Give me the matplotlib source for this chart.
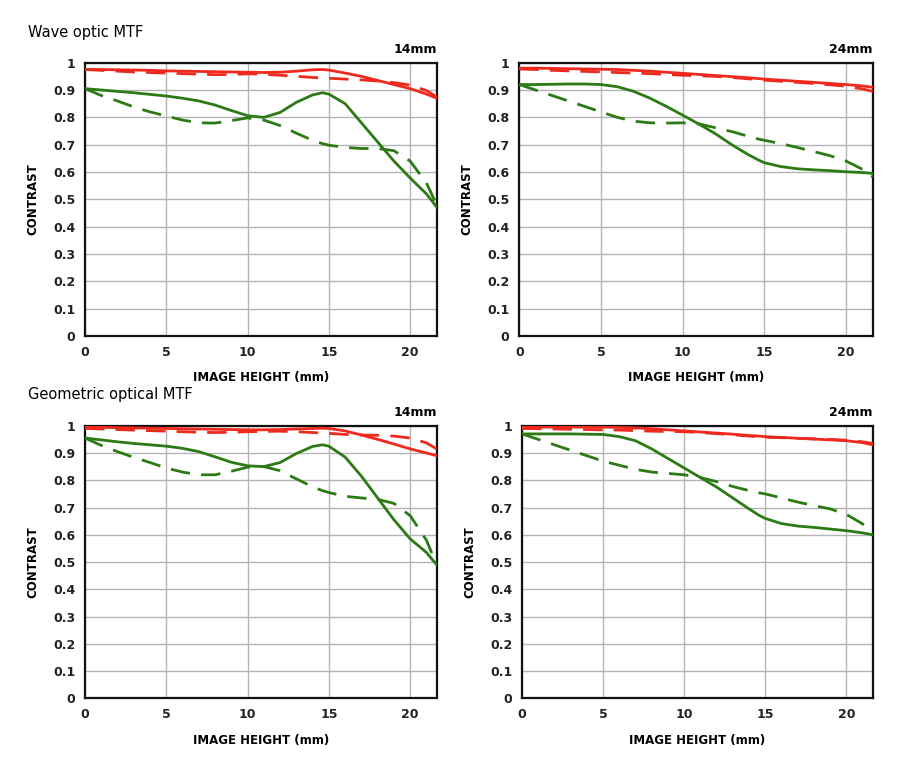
import matplotlib
matplotlib.use("Agg")
import matplotlib.pyplot as plt

# image height positions (mm), shared by every curve
x = [0, 1, 2, 3, 4, 5, 6, 7, 8, 9, 10, 11, 12, 13, 14, 14.6, 15, 16, 17, 18, 19, 20, 21, 21.63]

# wave optic MTF, 14mm
wave14_red_s = [0.975, 0.975, 0.974, 0.973, 0.972, 0.970, 0.969, 0.968, 0.967, 0.966, 0.965, 0.964, 0.965, 0.969, 0.974, 0.975, 0.973, 0.962, 0.950, 0.935, 0.920, 0.905, 0.885, 0.870]
wave14_red_d = [0.975, 0.972, 0.969, 0.966, 0.964, 0.962, 0.960, 0.958, 0.956, 0.957, 0.959, 0.958, 0.954, 0.950, 0.946, 0.944, 0.943, 0.940, 0.937, 0.933, 0.927, 0.918, 0.898, 0.875]
wave14_grn_s = [0.905, 0.900, 0.895, 0.890, 0.884, 0.878, 0.870, 0.860, 0.845, 0.825, 0.806, 0.800, 0.818, 0.855, 0.882, 0.890, 0.885, 0.850, 0.780, 0.710, 0.640, 0.578, 0.520, 0.472]
wave14_grn_d = [0.905, 0.880, 0.860, 0.838, 0.820, 0.805, 0.790, 0.780, 0.779, 0.788, 0.798, 0.790, 0.770, 0.742, 0.716, 0.704, 0.698, 0.690, 0.686, 0.686, 0.678, 0.640, 0.560, 0.480]

# wave optic MTF, 24mm
wave24_red_s = [0.980, 0.980, 0.979, 0.978, 0.977, 0.976, 0.975, 0.972, 0.969, 0.965, 0.961, 0.957, 0.953, 0.949, 0.945, 0.942, 0.940, 0.936, 0.932, 0.928, 0.924, 0.920, 0.915, 0.910]
wave24_red_d = [0.977, 0.975, 0.972, 0.970, 0.968, 0.966, 0.964, 0.962, 0.960, 0.957, 0.954, 0.952, 0.950, 0.946, 0.941, 0.938, 0.936, 0.932, 0.928, 0.924, 0.919, 0.914, 0.904, 0.895]
wave24_grn_s = [0.920, 0.920, 0.921, 0.922, 0.922, 0.920, 0.912, 0.895, 0.870, 0.840, 0.808, 0.775, 0.740, 0.700, 0.664, 0.645, 0.634, 0.620, 0.612, 0.608, 0.605, 0.601, 0.598, 0.595]
wave24_grn_d = [0.920, 0.900, 0.880, 0.860, 0.840, 0.820, 0.800, 0.786, 0.780, 0.779, 0.780, 0.776, 0.762, 0.748, 0.731, 0.721, 0.716, 0.704, 0.690, 0.675, 0.660, 0.640, 0.610, 0.582]

# geometric optical MTF, 14mm
geo14_red_s = [0.995, 0.994, 0.993, 0.992, 0.991, 0.990, 0.989, 0.988, 0.987, 0.986, 0.985, 0.985, 0.986, 0.988, 0.990, 0.991, 0.990, 0.981, 0.966, 0.950, 0.933, 0.915, 0.900, 0.890]
geo14_red_d = [0.990, 0.988, 0.986, 0.984, 0.982, 0.980, 0.978, 0.976, 0.975, 0.976, 0.978, 0.979, 0.980, 0.978, 0.975, 0.973, 0.972, 0.968, 0.966, 0.965, 0.962, 0.955, 0.937, 0.915]
geo14_grn_s = [0.955, 0.948, 0.941, 0.935, 0.930, 0.925, 0.917, 0.905, 0.886, 0.866, 0.853, 0.850, 0.865, 0.898, 0.924, 0.930, 0.925, 0.885, 0.815, 0.735, 0.655, 0.585, 0.535, 0.490]
geo14_grn_d = [0.955, 0.928, 0.905, 0.884, 0.865, 0.845, 0.830, 0.820, 0.820, 0.833, 0.848, 0.850, 0.835, 0.805, 0.776, 0.762, 0.755, 0.741, 0.735, 0.730, 0.715, 0.670, 0.580, 0.490]

# geometric optical MTF, 24mm
geo24_red_s = [0.995, 0.995, 0.995, 0.995, 0.995, 0.995, 0.994, 0.992, 0.989, 0.985, 0.981, 0.977, 0.973, 0.969, 0.964, 0.962, 0.960, 0.957, 0.954, 0.951, 0.948, 0.945, 0.938, 0.930]
geo24_red_d = [0.990, 0.989, 0.988, 0.987, 0.986, 0.985, 0.984, 0.982, 0.980, 0.979, 0.978, 0.975, 0.971, 0.967, 0.962, 0.960, 0.958, 0.956, 0.954, 0.952, 0.950, 0.947, 0.941, 0.935]
geo24_grn_s = [0.970, 0.970, 0.970, 0.970, 0.969, 0.968, 0.960, 0.945, 0.915, 0.880, 0.845, 0.810, 0.775, 0.735, 0.695, 0.672, 0.660, 0.641, 0.632, 0.627, 0.621, 0.615, 0.607, 0.600]
geo24_grn_d = [0.970, 0.950, 0.930, 0.910, 0.890, 0.870, 0.855, 0.840, 0.830, 0.825, 0.820, 0.810, 0.795, 0.777, 0.762, 0.754, 0.750, 0.735, 0.720, 0.707, 0.695, 0.675, 0.640, 0.610]

focal_labels = ["14mm", "24mm", "14mm", "24mm"]
section_titles = ["Wave optic MTF", "Geometric optical MTF"]

RED = "#ee2a1f"
GREEN = "#2b7a16"

panels = [
    (wave14_red_s, wave14_red_d, wave14_grn_s, wave14_grn_d),
    (wave24_red_s, wave24_red_d, wave24_grn_s, wave24_grn_d),
    (geo14_red_s, geo14_red_d, geo14_grn_s, geo14_grn_d),
    (geo24_red_s, geo24_red_d, geo24_grn_s, geo24_grn_d),
]

# axes rectangles in figure fraction (left, bottom, width, height)
rects = [
    (0.0944, 0.5636, 0.3908, 0.3550),
    (0.5770, 0.5636, 0.3927, 0.3550),
    (0.0944, 0.0931, 0.3908, 0.3540),
    (0.5800, 0.0931, 0.3897, 0.3540),
]

fig = plt.figure(figsize=(9, 7.7), dpi=100)

for rect, curves, label in zip(rects, panels, focal_labels):
    ax = fig.add_axes(rect)
    red_s, red_d, grn_s, grn_d = curves
    ax.plot(x, red_d, color=RED, lw=2, dashes=(7, 4), zorder=3)
    ax.plot(x, red_s, color=RED, lw=2, zorder=4)
    ax.plot(x, grn_d, color=GREEN, lw=2, dashes=(7, 4), zorder=3)
    ax.plot(x, grn_s, color=GREEN, lw=2, zorder=4)

    ax.set_xlim(0, 21.63)
    ax.set_ylim(0, 1)
    ax.set_xticks([0, 5, 10, 15, 20])
    ax.set_yticks([i / 10 for i in range(11)])
    ax.set_yticklabels(["0"] + ["0.%d" % i for i in range(1, 10)] + ["1"])
    ax.grid(True, color="#b4b4b4", lw=1)
    ax.set_axisbelow(True)
    ax.tick_params(length=0, pad=7, labelsize=9)
    for t in ax.get_xticklabels() + ax.get_yticklabels():
        t.set_fontweight("bold")
        t.set_color("#222222")
    for sp in ax.spines.values():
        sp.set_linewidth(1.6)
        sp.set_color("#111111")
    ax.set_xlabel("IMAGE HEIGHT (mm)", fontsize=8.5, fontweight="bold", labelpad=9)
    ax.set_ylabel("CONTRAST", fontsize=8.5, fontweight="bold", labelpad=10)
    ax.text(1.0, 1.025, label, transform=ax.transAxes, ha="right", va="bottom",
            fontsize=9, fontweight="bold")

fig.text(28 / 900, 0.958, section_titles[0], fontsize=10.5, va="center")
fig.text(28 / 900, 0.488, section_titles[1], fontsize=10.5, va="center")

fig.savefig("out.png", dpi=100, facecolor="white")
